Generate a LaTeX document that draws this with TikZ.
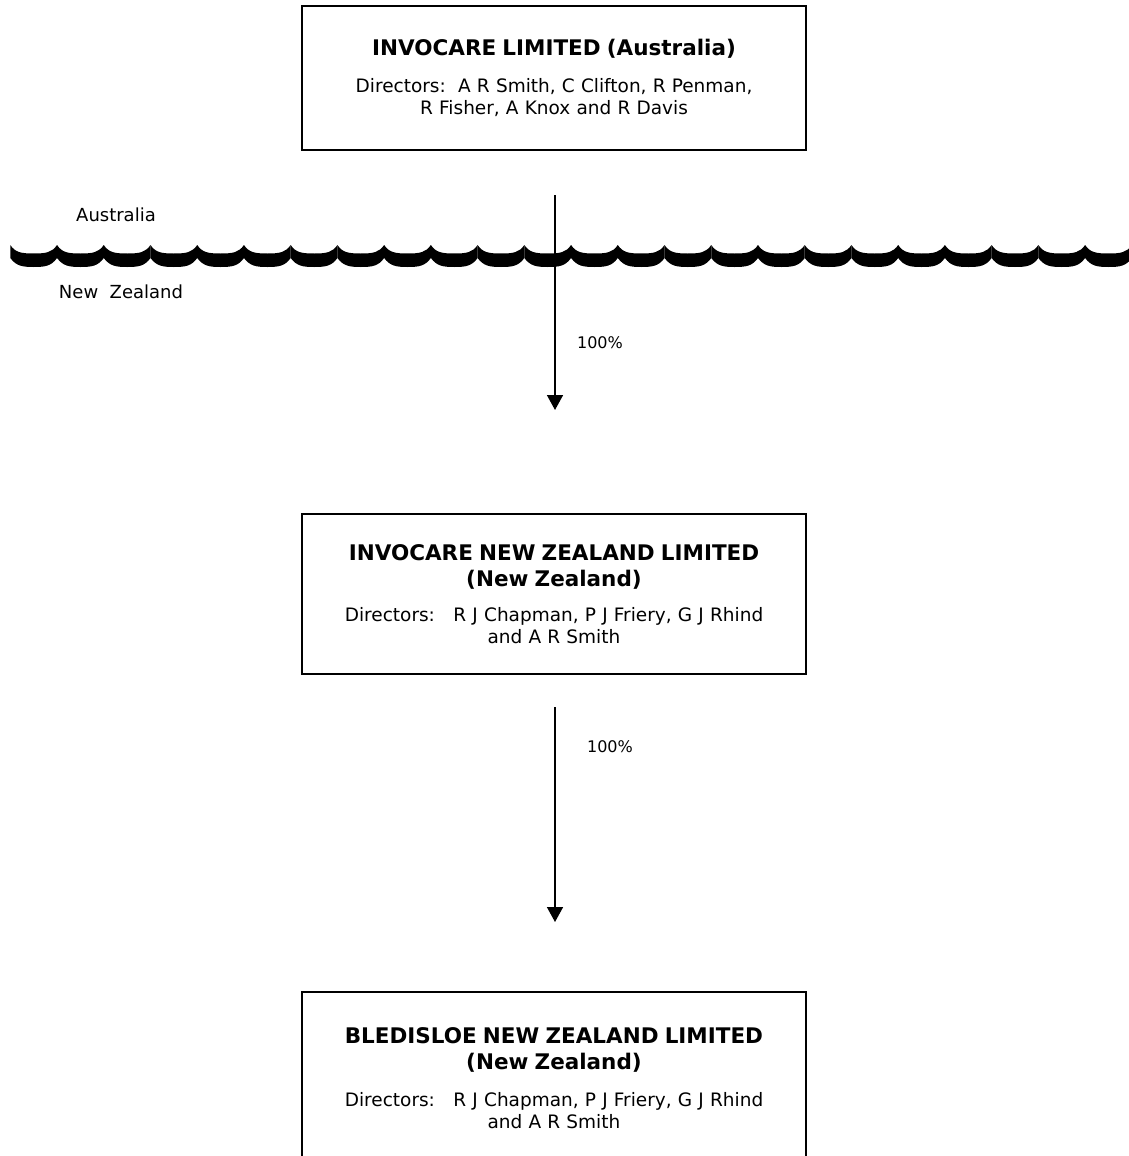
\documentclass[tikz,border=0pt]{standalone}
\usepackage{fontspec}
\setmainfont{DejaVu Sans}
\usetikzlibrary{arrows.meta}

\tikzset{
  entity/.style={draw, line width=1.5pt, minimum width=504pt, text width=500pt, align=center, inner sep=0pt, font=\fontsize{18.5}{22}\selectfont},
  link/.style={line width=1.6pt, -{Triangle[width=16pt,length=15pt]}},
  share/.style={font=\fontsize{16}{19}\selectfont},
  country/.style={font=\fontsize{18}{21}\selectfont},
}
\newcommand{\firmname}[1]{{\fontsize{21.5}{25.5}\selectfont\bfseries #1\par}}

\begin{document}
\begin{tikzpicture}[x=1pt,y=-1pt]
            \clip (0,0) rectangle (1129,1156);
            % companies
            \node[entity, minimum height=144pt] (invocare) at (554,78) {\firmname{INVOCARE LIMITED (Australia)}\vspace{15pt}Directors:\ \ A R Smith, C Clifton, R Penman,\\R Fisher, A Knox and R Davis};
            \node[entity, minimum height=160pt] (invocarenz) at (554,594) {\firmname{INVOCARE NEW ZEALAND LIMITED\\(New Zealand)}\vspace{13pt}Directors:\ \ \ R J Chapman, P J Friery, G J Rhind\\and A R Smith};
            \node[entity, minimum height=172pt] (bledisloe) at (554,1078) {\firmname{BLEDISLOE NEW ZEALAND LIMITED\\(New Zealand)}\vspace{15pt}Directors:\ \ \ R J Chapman, P J Friery, G J Rhind\\and A R Smith};
            % border between the two countries
            \foreach \k in {0,...,23}{
              \pgfmathsetmacro{\xa}{10.3+46.73*\k}
              \fill (\xa,245) .. controls (\xa+5,252.5) and (\xa+11,253.5) .. (\xa+23.4,253.5)
                    .. controls (\xa+35.7,253.5) and (\xa+41.7,252.5) .. (\xa+46.73,245)
                    -- (\xa+46.73,258) .. controls (\xa+41,266) and (\xa+35,267) .. (\xa+23.4,267)
                    .. controls (\xa+12,267) and (\xa+6,266) .. (\xa,258) -- cycle;
            }
            \node[country] (aus) at (116,215) {Australia};
            \node[country] (nz) at (121,292) {New\ \ Zealand};
            % shareholdings
            \coordinate (own1) at (555,195);
            \coordinate (end1) at (555,410);
            \coordinate (own2) at (555,707);
            \coordinate (end2) at (555,922);
            \draw[link] (own1) -- (end1);
            \draw[link] (own2) -- (end2);
            \node[share] (pct1) at (600,343) {100\%};
            \node[share] (pct2) at (610,747) {100\%};
        \end{tikzpicture}
\end{document}
